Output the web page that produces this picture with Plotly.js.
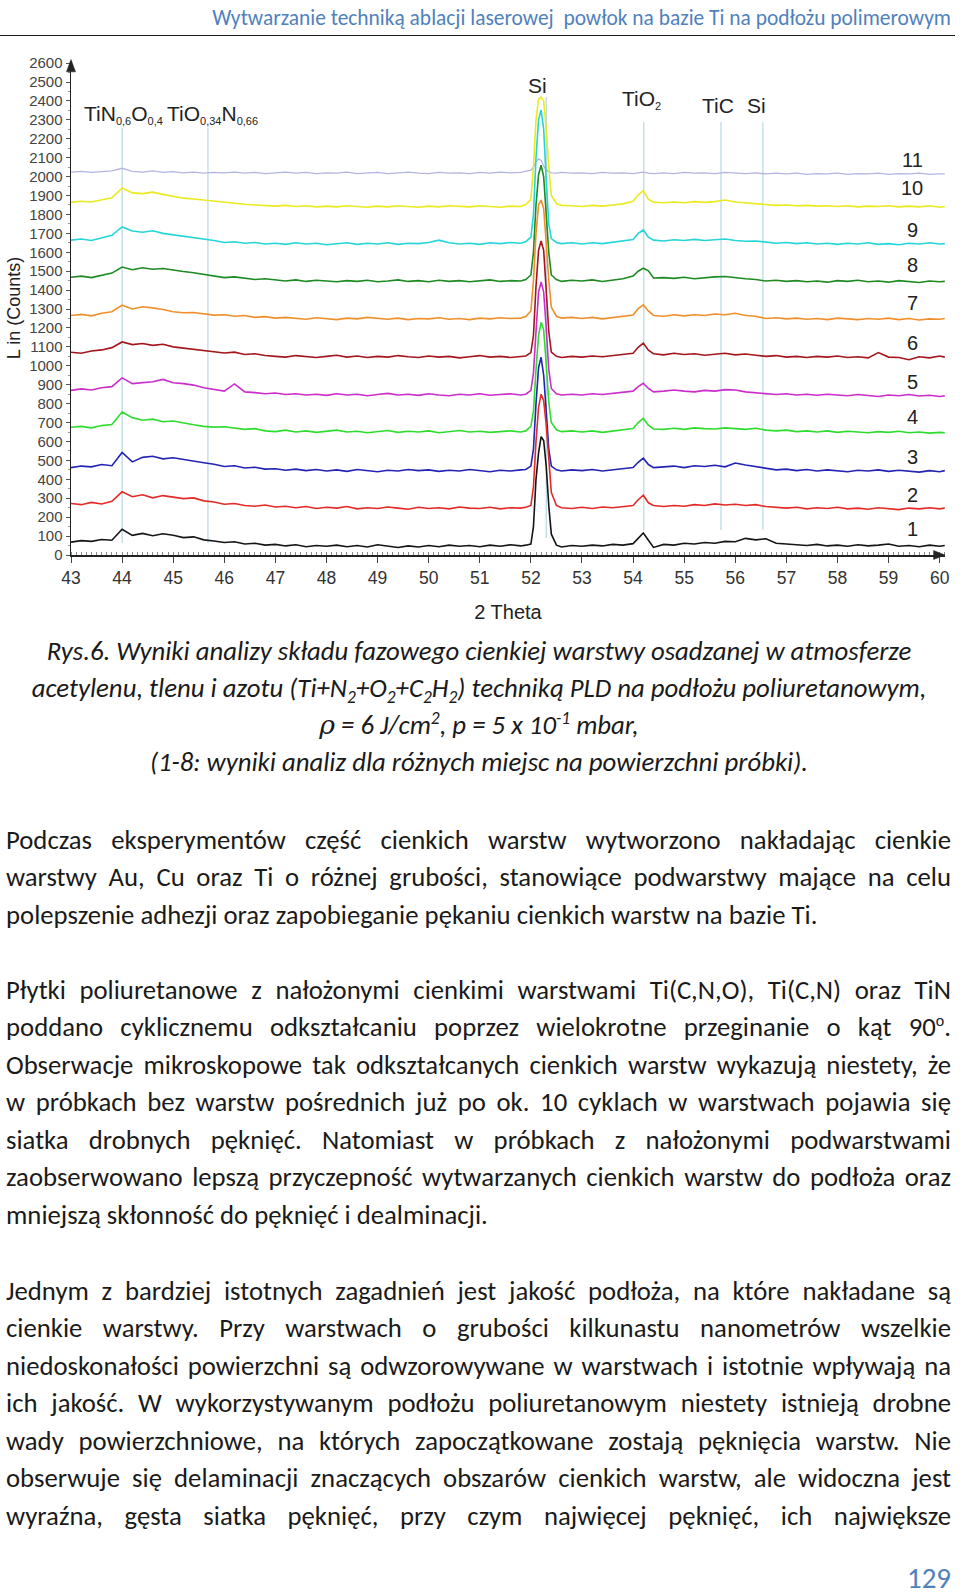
<!DOCTYPE html>
<html lang="pl">
<head>
<meta charset="utf-8">
<script src="https://cdn.plot.ly/plotly-3.0.1.min.js"></script>
<style>
  html,body{margin:0;padding:0;background:#fff;}
  body{width:960px;height:1593px;position:relative;overflow:hidden;
       font-family:Carlito, Lato, "Open Sans", sans-serif;color:#1a1a1a;}
  #chart{position:absolute;left:0;top:0;width:960px;height:640px;}
  .hdr{position:absolute;right:9px;top:4px;height:28px;line-height:28px;white-space:nowrap;color:#4f81bd;}
  .rule{position:absolute;left:0;top:35px;width:955px;height:0;border-top:1.5px solid #1a1a1a;}
  .cap{position:absolute;left:0;width:958px;text-align:center;font-style:italic;height:38px;line-height:38px;white-space:nowrap;}
  .cap sub,.cap sup{font-size:65%;line-height:1;}
  .body{position:absolute;left:6px;width:945px;height:38px;line-height:38px;white-space:nowrap;overflow:visible;}
  .body.j{text-align:justify;text-align-last:justify;white-space:normal;}
  .body sup{font-size:60%;line-height:1;}
  .pg{position:absolute;right:9px;top:1562px;height:32px;line-height:32px;color:#4f81bd;}
  .rho{font-family:"DejaVu Serif", serif;font-style:italic;}
</style>
</head>
<body>
<div class="hdr" id="hdr">Wytwarzanie techniką ablacji laserowej&nbsp; powłok na bazie Ti na podłożu polimerowym</div>
<div class="rule"></div>
<div id="chart"></div>

<div class="cap" id="cap1" style="top:632px">Rys.6. Wyniki analizy składu fazowego cienkiej warstwy osadzanej w atmosferze</div>
<div class="cap" style="top:669px">acetylenu, tlenu i azotu (Ti+N<sub>2</sub>+O<sub>2</sub>+C<sub>2</sub>H<sub>2</sub>) techniką PLD na podłożu poliuretanowym,</div>
<div class="cap" style="top:706px"><span class="rho">ρ</span> = 6 J/cm<sup>2</sup>, p = 5 x 10<sup>-1</sup> mbar,</div>
<div class="cap" style="top:743px">(1-8: wyniki analiz dla różnych miejsc na powierzchni próbki).</div>

<div class="body j" style="top:821px">Podczas eksperymentów część cienkich warstw wytworzono nakładając cienkie</div>
<div class="body j" style="top:858px">warstwy Au, Cu oraz Ti o różnej grubości, stanowiące podwarstwy mające na celu</div>
<div class="body" id="bref" style="top:896px">polepszenie adhezji oraz zapobieganie pękaniu cienkich warstw na bazie Ti.</div>

<div class="body j" style="top:971px">Płytki poliuretanowe z nałożonymi cienkimi warstwami Ti(C,N,O), Ti(C,N) oraz TiN</div>
<div class="body j" style="top:1008px">poddano cyklicznemu odkształcaniu poprzez wielokrotne przeginanie o kąt 90<sup>o</sup>.</div>
<div class="body j" style="top:1046px">Obserwacje mikroskopowe tak odkształcanych cienkich warstw wykazują niestety, że</div>
<div class="body j" style="top:1083px">w próbkach bez warstw pośrednich już po ok. 10 cyklach w warstwach pojawia się</div>
<div class="body j" style="top:1121px">siatka drobnych pęknięć. Natomiast w próbkach z nałożonymi podwarstwami</div>
<div class="body j" style="top:1158px">zaobserwowano lepszą przyczepność wytwarzanych cienkich warstw do podłoża oraz</div>
<div class="body" style="top:1196px">mniejszą skłonność do pęknięć i dealminacji.</div>

<div class="body j" style="top:1272px">Jednym z bardziej istotnych zagadnień jest jakość podłoża, na które nakładane są</div>
<div class="body j" style="top:1309px">cienkie warstwy. Przy warstwach o grubości kilkunastu nanometrów wszelkie</div>
<div class="body j" style="top:1347px">niedoskonałości powierzchni są odwzorowywane w warstwach i istotnie wpływają na</div>
<div class="body j" style="top:1384px">ich jakość. W wykorzystywanym podłożu poliuretanowym niestety istnieją drobne</div>
<div class="body j" style="top:1422px">wady powierzchniowe, na których zapoczątkowane zostają pęknięcia warstw. Nie</div>
<div class="body j" style="top:1459px">obserwuje się delaminacji znaczących obszarów cienkich warstw, ale widoczna jest</div>
<div class="body j" style="top:1497px">wyraźna, gęsta siatka pęknięć, przy czym najwięcej pęknięć, ich największe</div>

<div class="pg" id="pg">129</div>

<script>
// ---------------- DATA ----------------
const TWO_THETA = [
  43.0,43.2,43.4,43.6,43.8,44.0,44.2,44.4,44.6,44.8,
  45.0,45.2,45.4,45.6,45.8,46.0,46.2,46.4,46.6,46.8,
  47.0,47.2,47.4,47.6,47.8,48.0,48.2,48.4,48.6,48.8,
  49.0,49.2,49.4,49.6,49.8,50.0,50.2,50.4,50.6,50.8,
  51.0,51.2,51.4,51.6,51.8,
  51.9,52.0,52.05,52.1,52.15,52.2,52.25,52.3,52.35,52.4,52.5,52.6,52.8,
  53.0,53.2,53.4,53.6,53.8,54.0,
  54.1,54.2,54.3,54.4,
  54.6,54.8,55.0,55.2,55.4,55.6,55.8,56.0,56.2,56.4,
  56.6,56.8,57.0,57.2,57.4,57.6,57.8,58.0,58.2,58.4,
  58.6,58.8,59.0,59.2,59.4,59.6,59.8,60.0,
  60.1
];

const sample1 = [
  68,76,72,82,78,136,104,114,102,112, 104,92,96,80,74,66,70,58,62,52,
  56,48,54,44,50,46,52,44,50,42, 54,46,40,48,42,50,44,52,46,50, 44,52,46,54,48,
  52,58,150,400,540,625,605,470,260,110,52,42,50,
  46,52,48,56,52,60,
  88,116,78,40,
  56,52,62,58,66,62,72,70,88,80, 86,62,58,54,50,56,48,52,46,54, 48,52,58,46,50,44,52,46,
  50
];
const sample2 = [
  272,266,278,270,284,334,308,318,302,314, 306,298,302,286,280,268,272,262,258,264,
  254,258,250,256,246,252,248,256,244,250, 246,254,248,242,252,246,250,244,254,248, 246,252,244,250,248,
  252,262,360,600,780,850,815,690,500,330,262,250,246,
  252,246,254,250,258,262,
  292,316,276,262,
  256,262,258,266,262,270,264,268,262,266, 256,252,248,252,244,250,246,252,244,248, 242,250,246,240,248,244,250,244,
  248
];
const sample3 = [
  462,470,466,478,472,542,492,516,522,508, 514,504,496,488,480,468,472,460,464,454,
  456,448,454,446,452,444,450,442,452,446, 440,448,444,452,446,450,442,448,444,452, 446,440,448,444,450,
  452,470,560,800,990,1045,950,760,560,470,450,444,450,
  446,452,444,450,458,462,
  490,512,478,462,
  466,470,462,472,468,474,466,486,476,468, 458,450,454,446,452,444,450,446,440,448, 444,450,442,448,444,438,446,440,
  446
];
const sample4 = [
  675,680,672,684,690,756,726,712,718,704, 708,696,688,680,676,678,670,664,668,656,
  652,660,650,656,648,654,660,650,654,646, 652,658,648,654,650,656,646,652,658,650, 654,648,652,656,650,
  656,680,760,980,1160,1230,1190,1010,810,700,662,652,656,
  650,656,648,654,660,668,
  700,722,686,666,
  664,670,664,672,668,666,672,668,664,670, 660,656,660,652,656,650,656,648,654,650, 646,652,648,654,646,650,644,648,
  646
];
const sample5 = [
  870,878,872,884,890,936,906,912,916,928, 910,906,898,884,876,866,904,862,858,852,
  856,848,852,846,850,844,852,846,850,842, 848,854,846,850,844,852,846,842,850,846, 852,844,848,852,846,
  850,870,960,1180,1390,1443,1390,1200,980,880,852,846,850,
  846,852,848,854,858,866,
  890,908,880,862,
  866,872,866,862,870,866,874,872,862,858, 852,848,852,846,850,844,850,846,842,848, 844,838,846,842,848,840,844,838,
  842
];
const sample6 = [
  1072,1066,1078,1084,1096,1126,1112,1118,1108,1114, 1100,1094,1088,1082,1076,1068,1072,1060,1064,1054,
  1050,1046,1054,1048,1044,1050,1056,1046,1052,1044, 1050,1046,1054,1048,1044,1052,1046,1050,1042,1048, 1054,1046,1050,1044,1050,
  1052,1070,1160,1420,1610,1660,1610,1400,1180,1072,1050,1044,1050,
  1046,1052,1048,1054,1058,1066,
  1098,1120,1082,1064,
  1058,1066,1060,1064,1056,1062,1066,1058,1062,1056, 1050,1054,1046,1050,1044,1050,1046,1052,1044,1048, 1042,1070,1046,1044,1032,1048,1042,1052,
  1046
];
const sample7 = [
  1266,1272,1264,1278,1286,1320,1300,1312,1306,1298, 1286,1280,1282,1274,1268,1270,1262,1266,1256,1260,
  1252,1256,1250,1246,1254,1250,1244,1252,1248,1256, 1250,1246,1252,1244,1250,1248,1254,1246,1250,1244, 1252,1248,1254,1250,1252,
  1260,1290,1450,1700,1850,1876,1830,1650,1450,1310,1262,1252,1256,
  1250,1256,1248,1254,1262,1268,
  1302,1322,1290,1266,
  1262,1270,1264,1270,1266,1274,1270,1278,1266,1262, 1250,1254,1248,1252,1246,1250,1244,1252,1248,1244, 1250,1246,1252,1244,1250,1242,1248,1246,
  1250
];
const sample8 = [
  1468,1474,1466,1480,1490,1522,1508,1518,1510,1514, 1504,1498,1492,1484,1476,1466,1470,1462,1456,1460,
  1452,1448,1454,1446,1452,1448,1444,1450,1446,1452, 1444,1448,1454,1446,1450,1444,1452,1446,1450,1444, 1448,1454,1446,1450,1448,
  1456,1480,1600,1850,2010,2060,2000,1800,1600,1480,1456,1446,1452,
  1448,1454,1446,1452,1460,1474,
  1500,1516,1502,1464,
  1466,1462,1468,1460,1466,1470,1472,1464,1460,1456, 1448,1452,1446,1450,1444,1448,1442,1450,1446,1452, 1444,1448,1442,1450,1446,1440,1448,1444,
  1446
];
const sample9 = [
  1664,1670,1662,1676,1690,1734,1712,1706,1714,1700, 1692,1686,1676,1672,1662,1652,1656,1648,1652,1644,
  1648,1642,1650,1644,1648,1640,1646,1650,1642,1648, 1644,1650,1642,1648,1646,1652,1664,1650,1644,1648, 1642,1650,1646,1652,1648,
  1656,1680,1800,2100,2300,2352,2250,1980,1750,1672,1652,1646,1650,
  1644,1650,1646,1652,1658,1668,
  1700,1718,1680,1664,
  1660,1666,1662,1668,1662,1666,1670,1662,1658,1660, 1652,1648,1652,1646,1650,1644,1648,1642,1648,1644, 1650,1642,1646,1640,1648,1644,1650,1644,
  1646
];
const sample10 = [
  1864,1870,1866,1876,1888,1940,1914,1910,1918,1906, 1894,1886,1882,1876,1870,1862,1858,1854,1850,1846,
  1844,1848,1842,1846,1840,1844,1840,1846,1842,1838, 1844,1840,1846,1842,1838,1844,1840,1846,1842,1840, 1846,1842,1838,1844,1842,
  1852,1880,2050,2300,2410,2420,2400,2250,2050,1900,1858,1848,1846,
  1842,1848,1844,1850,1856,1870,
  1904,1926,1880,1864,
  1862,1866,1862,1868,1864,1868,1876,1866,1862,1860, 1852,1848,1850,1846,1848,1844,1846,1842,1846,1840, 1844,1842,1846,1840,1844,1840,1846,1838,
  1842
];
const sample11 = [
  2024,2028,2022,2026,2030,2044,2028,2024,2030,2022, 2026,2020,2024,2018,2022,2020,2024,2018,2022,2016,
  2020,2024,2018,2022,2016,2020,2018,2024,2016,2020, 2022,2016,2020,2024,2018,2016,2022,2018,2020,2016, 2022,2018,2024,2020,2022,
  2026,2034,2050,2080,2094,2086,2056,2034,2026,2020,2018,2022,2018,
  2020,2016,2022,2018,2020,2016,
  2020,2024,2018,2016,
  2020,2016,2022,2018,2020,2016,2022,2018,2016,2020, 2014,2018,2014,2018,2012,2016,2014,2018,2012,2016, 2014,2018,2012,2016,2014,2018,2012,2014,
  2014
];

const SAMPLES = [sample1,sample2,sample3,sample4,sample5,sample6,sample7,sample8,sample9,sample10,sample11];
const SAMPLE_NAMES = ['1','2','3','4','5','6','7','8','9','10','11'];
const SAMPLE_LABEL_Y = [137,317,518,729,914,1121,1332,1533,1718,1940,2088];

const SUB = s => '<sub><span style="font-size:11px">' + s + '</span></sub>';
const PHASE_NAMES = ['TiN' + SUB('0,6') + 'O' + SUB('0,4'), 'TiO' + SUB('0,34') + 'N' + SUB('0,66'), 'Si', 'TiO' + SUB('2'), 'TiC', 'Si'];
const PHASE_LINE_X = [44.0, 45.68, 52.30, 54.21, 55.72, 56.54];
const PHASE_LINE_TOP = [2257, 2257, 2420, 2288, 2288, 2288];
const PHASE_LINE_BOTTOM = [63, 63, 90, 132, 132, 132];
const PHASE_LABEL_X = [43.22, 44.84, 52.12, 54.17, 55.66, 56.42];
const PHASE_LABEL_Y = [2326, 2326, 2479, 2405, 2378, 2378];
const PHASE_LABEL_ANCHOR = ['left','left','center','center','center','center'];

const X_TICKS = [43,44,45,46,47,48,49,50,51,52,53,54,55,56,57,58,59,60];
const Y_TICKS = [0,100,200,300,400,500,600,700,800,900,1000,1100,1200,1300,1400,1500,1600,1700,1800,1900,2000,2100,2200,2300,2400,2500,2600];

const COLORS = ['#151515','#e42a26','#2323b4','#2edc2e','#cc2ccc','#a3161c','#f0902c','#1d8a22','#25d5d8','#eaea1e','#b4b4e2'];

// ---------------- CHART ----------------
const traces = [];
for (let i = SAMPLES.length - 1; i >= 0; i--) {
  traces.push({
    type: 'scatter', mode: 'lines', x: TWO_THETA, y: SAMPLES[i], name: SAMPLE_NAMES[i],
    line: {color: COLORS[i], width: i === 10 ? 1.3 : 1.6}, hoverinfo: 'skip'
  });
}

const shapes = PHASE_LINE_X.map((x, i) => ({
  type: 'line', xref: 'x', yref: 'y', layer: 'below',
  x0: x, x1: x, y0: PHASE_LINE_BOTTOM[i], y1: PHASE_LINE_TOP[i],
  line: {color: '#a9cfdc', width: 1}
}));
// axis arrow heads (small filled triangles at the axis ends)
shapes.push({type: 'path', xref: 'paper', yref: 'paper', layer: 'above',
  path: 'M -0.0052 0.978 L 0 1.003 L 0.0052 0.978 Z',
  fillcolor: '#222', line: {color: '#222', width: 0.5}});
shapes.push({type: 'path', xref: 'paper', yref: 'paper', layer: 'above',
  path: 'M 0.987 -0.0091 L 1.0 0 L 0.987 0.0091 Z',
  fillcolor: '#222', line: {color: '#222', width: 0.5}});

const annotations = [];
PHASE_NAMES.forEach((t, i) => annotations.push({
  x: PHASE_LABEL_X[i], y: PHASE_LABEL_Y[i], xref: 'x', yref: 'y', text: t, showarrow: false,
  xanchor: PHASE_LABEL_ANCHOR[i], yanchor: 'middle',
  font: {family: 'Liberation Sans, Arial, sans-serif', size: 21, color: '#222'}
}));
SAMPLE_NAMES.forEach((t, i) => annotations.push({
  x: 59.46, y: SAMPLE_LABEL_Y[i], xref: 'x', yref: 'y', text: t, showarrow: false,
  xanchor: 'center', yanchor: 'middle',
  font: {family: 'Liberation Sans, Arial, sans-serif', size: 20, color: '#222'}
}));

const layout = {
  width: 960, height: 640,
  margin: {l: 71, r: 15, t: 61, b: 85},
  paper_bgcolor: 'rgba(0,0,0,0)', plot_bgcolor: 'rgba(0,0,0,0)',
  showlegend: false, hovermode: false,
  font: {family: 'Liberation Sans, Arial, sans-serif', color: '#333'},
  xaxis: {
    range: [43, 60.104], tickvals: X_TICKS, ticktext: X_TICKS.map(String),
    ticks: 'outside', ticklen: 6, tickwidth: 1, tickcolor: '#444',
    showline: true, linecolor: '#222', linewidth: 1.5, showgrid: false, zeroline: false,
    tickfont: {size: 17.5, color: '#333'},
    minor: {dtick: 0.1, ticks: 'inside', ticklen: 3, tickcolor: '#888', showgrid: false},
    title: {text: '2 Theta', font: {size: 20, color: '#222'}, standoff: 18}
  },
  yaxis: {
    range: [0, 2611], tickvals: Y_TICKS, ticktext: Y_TICKS.map(String),
    ticks: 'outside', ticklen: 4, tickwidth: 1, tickcolor: '#555',
    showline: true, linecolor: '#222', linewidth: 1.5, showgrid: false, zeroline: false,
    tickfont: {size: 15, color: '#444'},
    minor: {dtick: 50, ticks: 'outside', ticklen: 2, tickcolor: '#999', showgrid: false},
    title: {text: 'L in (Counts)', font: {size: 18, color: '#222'}, standoff: 4}
  },
  shapes: shapes,
  annotations: annotations
};

Plotly.newPlot('chart', traces, layout, {staticPlot: true, displayModeBar: false});

// ---------------- TEXT FITTING ----------------
const ctx = document.createElement('canvas').getContext('2d');
const FAM = getComputedStyle(document.body).fontFamily;
function tw(text, font) { ctx.font = font; return ctx.measureText(text).width; }

const bref = document.getElementById('bref');
const bodySize = 20 * 812 / tw(bref.textContent, '20px ' + FAM);
document.querySelectorAll('.body').forEach(el => {
  el.style.fontSize = bodySize + 'px';
  if (el.classList.contains('j')) {
    const nat = tw(el.textContent, bodySize + 'px ' + FAM);
    if (nat > 940) el.style.fontSize = (bodySize * 940 / nat) + 'px';
  }
});
const cap1 = document.getElementById('cap1');
const capSize = 20 * 865 / tw(cap1.textContent, 'italic 20px ' + FAM);
document.querySelectorAll('.cap').forEach(el => el.style.fontSize = capSize + 'px');
const hdr = document.getElementById('hdr');
hdr.style.fontSize = (20 * 739 / tw(hdr.textContent, '20px ' + FAM)) + 'px';
const pg = document.getElementById('pg');
pg.style.fontSize = (20 * 44 / tw('129', '20px ' + FAM)) + 'px';
</script>
</body>
</html>
